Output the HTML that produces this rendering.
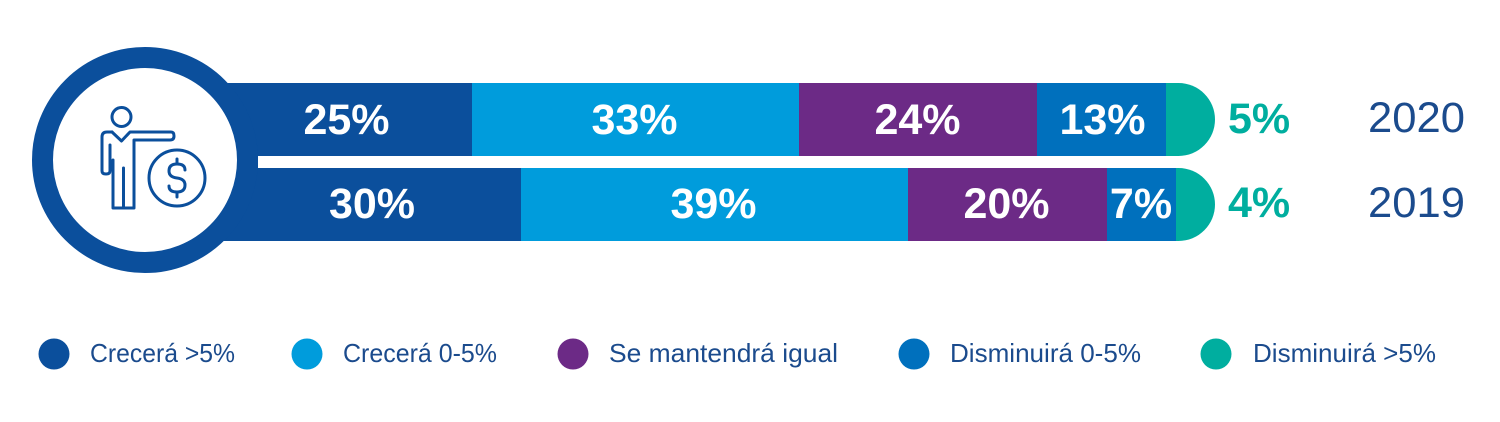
<!DOCTYPE html>
<html>
<head>
<meta charset="utf-8">
<style>
  html, body { margin: 0; padding: 0; background: #ffffff; }
  svg { display: block; }
  text { font-family: "Liberation Sans", Arial, sans-serif; }
</style>
</head>
<body>
<svg width="1500" height="422" viewBox="0 0 1500 422" xmlns="http://www.w3.org/2000/svg">
  <rect x="0" y="0" width="1500" height="422" fill="#ffffff"/>

  <!-- Top bar (2020) -->
  <rect x="145" y="83" width="327" height="73" fill="#0b4f9c"/>
  <rect x="472" y="83" width="327" height="73" fill="#009cdc"/>
  <rect x="799" y="83" width="238" height="73" fill="#6c2a86"/>
  <rect x="1037" y="83" width="129" height="73" fill="#0070bd"/>
  <path d="M1166 83 H1178.5 A36.5 36.5 0 0 1 1178.5 156 H1166 Z" fill="#00ae9f"/>

  <!-- Bottom bar (2019) -->
  <rect x="145" y="168" width="376" height="73" fill="#0b4f9c"/>
  <rect x="521" y="168" width="387" height="73" fill="#009cdc"/>
  <rect x="908" y="168" width="199" height="73" fill="#6c2a86"/>
  <rect x="1107" y="168" width="69" height="73" fill="#0070bd"/>
  <path d="M1176 168 H1178.5 A36.5 36.5 0 0 1 1178.5 241 H1176 Z" fill="#00ae9f"/>

  <!-- fill gap behind circle -->
  <rect x="145" y="155" width="113" height="14" fill="#0b4f9c"/>

  <!-- Circle ring -->
  <circle cx="145" cy="160" r="102.5" fill="#ffffff" stroke="#0b4f9c" stroke-width="21"/>

  <!-- Icon: person -->
  <g fill="none" stroke="#0b4f9c" stroke-width="3" stroke-linejoin="round" stroke-linecap="round">
    <circle cx="121.5" cy="117" r="9.5"/>
    <!-- left arm -->
    <path d="M110 145 V171 Q110 174 106 174 Q102 174 102 171 V137 Q102 132 107 132 H112"/>
    <!-- V neck and shoulders / right arm -->
    <path d="M112 132 L121.5 141 L130 132 H171 Q174 132 174 136 Q174 140 170 140 H134 V208 H113 V160"/>
    <!-- inner leg line -->
    <path d="M123.5 208 V168"/>
  </g>
  <!-- Icon: coin -->
  <g fill="none" stroke="#0b4f9c" stroke-width="3" stroke-linecap="round">
    <circle cx="177" cy="178" r="28"/>
    <path d="M185 170 Q185 164 177 164 Q169 164 169 171 Q169 177 177 178 Q185 179 185 185 Q185 192 177 192 Q169 192 169 186"/>
    <path d="M177 159 V164"/>
    <path d="M177 192 V197"/>
  </g>

  <!-- Bar labels -->
  <g font-weight="bold" font-size="43" fill="#ffffff" text-anchor="middle">
    <text x="346.5" y="134">25%</text>
    <text x="634.5" y="134">33%</text>
    <text x="917.5" y="134">24%</text>
    <text x="1102.5" y="134">13%</text>
    <text x="372" y="218">30%</text>
    <text x="713.5" y="218">39%</text>
    <text x="1006.5" y="218">20%</text>
    <text x="1141" y="218">7%</text>
  </g>
  <g font-weight="bold" font-size="43" fill="#00ae9f">
    <text x="1228" y="133">5%</text>
    <text x="1228" y="217">4%</text>
  </g>

  <!-- Years -->
  <g font-size="43" fill="#1b4b8d">
    <text x="1368" y="132" textLength="97" lengthAdjust="spacingAndGlyphs">2020</text>
    <text x="1368" y="217" textLength="97" lengthAdjust="spacingAndGlyphs">2019</text>
  </g>

  <!-- Legend -->
  <circle cx="54" cy="354" r="15.5" fill="#0b4f9c"/>
  <circle cx="307" cy="354" r="15.5" fill="#009cdc"/>
  <circle cx="573" cy="354" r="15.5" fill="#6c2a86"/>
  <circle cx="914" cy="354" r="15.5" fill="#0070bd"/>
  <circle cx="1216" cy="354" r="15.5" fill="#00ae9f"/>
  <g font-size="26" fill="#1b4b8d">
    <text x="90" y="362" textLength="145" lengthAdjust="spacingAndGlyphs">Crecerá &gt;5%</text>
    <text x="343" y="362" textLength="154" lengthAdjust="spacingAndGlyphs">Crecerá 0-5%</text>
    <text x="609" y="362" textLength="229" lengthAdjust="spacingAndGlyphs">Se mantendrá igual</text>
    <text x="950" y="362" textLength="191" lengthAdjust="spacingAndGlyphs">Disminuirá 0-5%</text>
    <text x="1253" y="362" textLength="183" lengthAdjust="spacingAndGlyphs">Disminuirá &gt;5%</text>
  </g>
</svg>
</body>
</html>
